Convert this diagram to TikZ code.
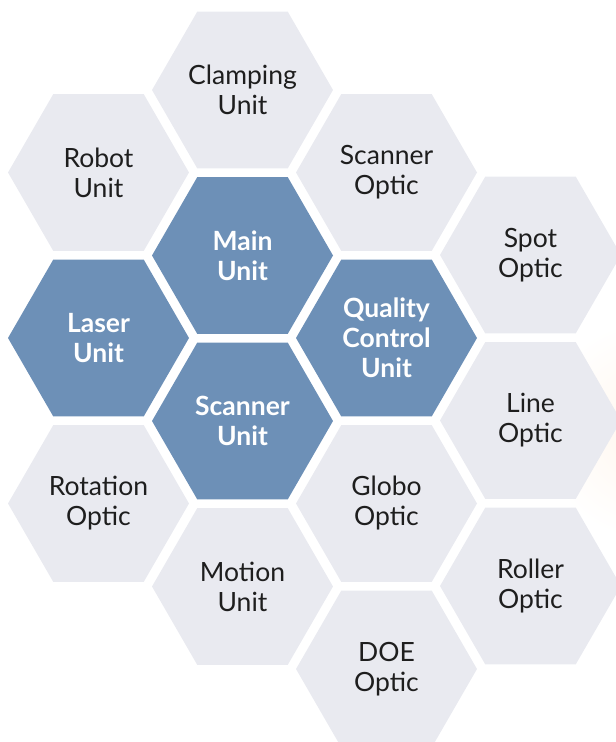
\documentclass[tikz,border=0pt]{standalone}
\usepackage{fontspec}
\setmainfont{Lato}
\usetikzlibrary{shapes.geometric}
\definecolor{hexlight}{HTML}{E9EAF0}
\definecolor{hexdark}{HTML}{6D90B7}
\definecolor{hextext}{HTML}{1E1E1E}
\tikzstyle{hexa} = [regular polygon, regular polygon sides=6,
    minimum size=181pt, inner sep=0pt, align=center, fill=hexlight, text=hextext,
    font=\fontsize{26.5}{30}\selectfont]
\tikzstyle{core} = [hexa, fill=hexdark, text=white, font=\fontsize{26.5}{30}\selectfont\bfseries]

\begin{document}
\begin{tikzpicture}[x=1pt, y=-1pt, node distance = 165.5pt]
\useasboundingbox (0,0) rectangle (616,742);
\shade[inner color=orange!7, outer color=white] (650,430) circle (110pt);
% left column
\node[hexa] (robot) at (98.5,172.5) {Robot\\Unit};
\node[core, below of= robot] (laser) {Laser\\Unit};
\node[hexa, below of= laser] (rotation) {Rotation\\Optic};
% second column
\node[hexa] (clamping) at (242.5,90) {Clamping\\Unit};
\node[core, below of= clamping] (main) {Main\\Unit};
\node[core, below of= main] (scanner) {Scanner\\Unit};
\node[hexa, below of= scanner] (motion) {Motion\\Unit};
% third column
\node[hexa] (scanopt) at (386.5,172.5) {Scanner\\Optic};
\node[core, below of= scanopt] (quality) {Quality\\Control\\Unit};
\node[hexa, below of= quality] (globo) {Globo\\Optic};
\node[hexa, below of= globo] (doe) {DOE\\Optic};
% right column
\node[hexa] (spot) at (530.5,255) {Spot\\Optic};
\node[hexa, below of= spot] (line) {Line\\Optic};
\node[hexa, below of= line] (roller) {Roller\\Optic};
\end{tikzpicture}
\end{document}
